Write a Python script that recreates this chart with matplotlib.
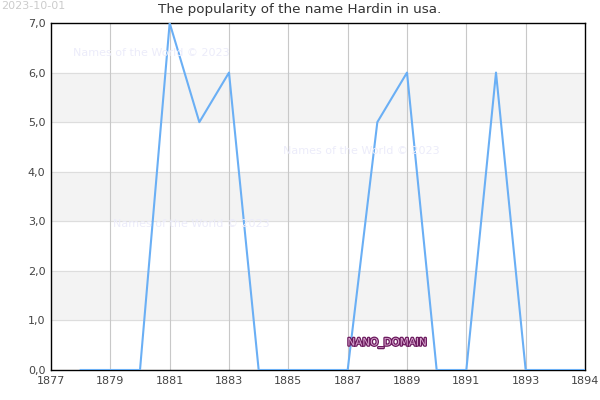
import matplotlib
matplotlib.use("Agg")
import matplotlib.pyplot as plt
import matplotlib.patheffects as pe

years = [1878, 1879, 1880, 1881, 1882, 1883, 1884, 1885, 1886, 1887,
         1888, 1889, 1890, 1891, 1892, 1893, 1894, 1895]
counts = [0, 0, 0, 7, 5, 6, 0, 0, 0, 0, 5, 6, 0, 0, 6, 0, 0, 0]
xtick_pos = [1877, 1879, 1881, 1883, 1885, 1887, 1889, 1891, 1893, 1895]
xtick_labels = ["1877", "1879", "1881", "1883", "1885", "1887", "1889",
                "1891", "1893", "1894"]
yticks = [0, 1, 2, 3, 4, 5, 6, 7]
ytick_labels = ["0,0", "1,0", "2,0", "3,0", "4,0", "5,0", "6,0", "7,0"]

fig = plt.figure(figsize=(6, 4), dpi=100)
ax = fig.add_axes([51 / 600, 30 / 400, 534 / 600, 347 / 400])

# alternating bands
for lo in (1, 3, 5):
    ax.axhspan(lo, lo + 1, color="#f3f3f3", zorder=0)
for y in yticks[1:-1]:
    ax.axhline(y, color="#dddddd", lw=0.8, zorder=1)
for x in xtick_pos[1:-1]:
    ax.axvline(x, color="#c8c8c8", lw=0.8, zorder=1)

ax.plot(years, counts, color="#6aaff5", lw=1.5, zorder=3)

ax.set_xlim(1877, 1895)
ax.set_ylim(0, 7)
ax.set_xticks(xtick_pos)
ax.set_xticklabels(xtick_labels)
ax.set_yticks(yticks)
ax.set_yticklabels(ytick_labels)
ax.tick_params(length=0, labelsize=8, colors="#444444", pad=4)
for s in ax.spines.values():
    s.set_color("black")
    s.set_linewidth(1)

fig.text(0.5, 1 - 10 / 400, "The popularity of the name Hardin in usa.",
         fontsize=9.7, color="#333333", ha="center", va="center")
fig.text(0.002, 0.997, "2023-10-01", fontsize=8, color="#cccccc", va="top")

wm = "#ececfa"
for (px, py) in [(73, 53), (283, 151), (113, 224)]:
    fig.text(px / 600, 1 - py / 400, "Names of the World \u00a9 2023",
             fontsize=8, color=wm, va="center", zorder=2)

t = fig.text(387 / 600, 1 - 343 / 400, "NANO_DOMAIN", fontsize=7.5,
             color="#d9a6cf", ha="center", va="center", zorder=5)
t.set_path_effects([pe.withStroke(linewidth=1.8, foreground="#6b1a5e")])

fig.savefig("out.png", dpi=100)
